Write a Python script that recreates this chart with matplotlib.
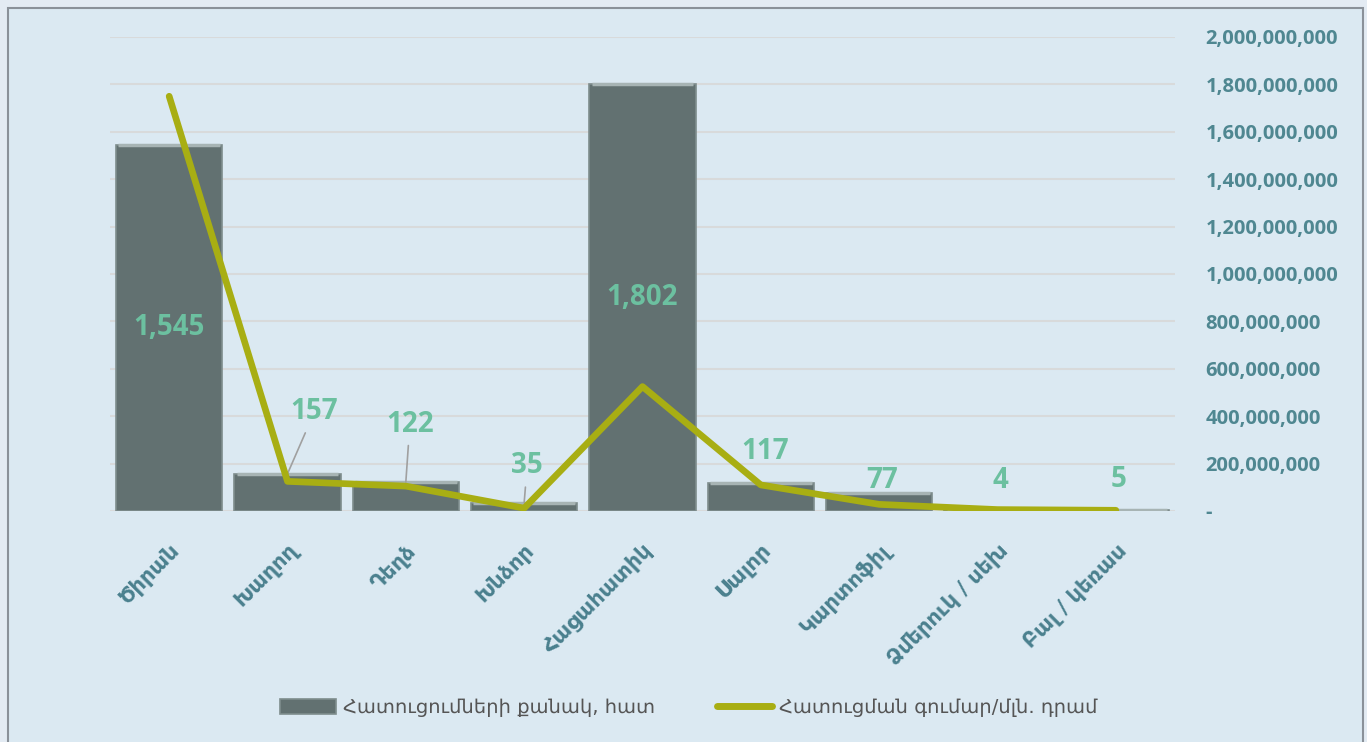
import matplotlib.pyplot as plt
from matplotlib.patches import Rectangle
from matplotlib.ticker import FuncFormatter

crops = ["Ծիրան", "Խաղող", "Դեղձ", "Խնձոր", "Հացահատիկ",
         "Սալոր", "Կարտոֆիլ", "Ձմերուկ / սեխ", "Բալ / կեռաս"]
claims = [1545, 157, 122, 35, 1802, 117, 77, 4, 5]
amounts = [1.75e9, 1.25e8, 1.05e8, 1.2e7, 5.25e8, 1.1e8, 2.8e7, 6e6, 3e6]

# label offsets in pixels (dx, dy) from bar top, and whether a leader line is drawn
label_off = [None, (27, 62), (4, 58), (3, 37), None, (4, 32), (3, 12), (3, 30), (3, 30)]
leader = [False, True, True, True, False, False, False, False, False]

bar_col = "#627171"
line_col = "#A8AE13"
num_col = "#6CC0A0"
axis_col = "#4F8791"
xlab_col = "#4A808E"
grid_col = "#D8DADB"
num_font = ["Open Sans", "DejaVu Sans"]

fig = plt.figure(figsize=(13.67, 7.42), dpi=100)
fig.patch.set_facecolor("#E3EBF3")
fig.patches.append(Rectangle((8 / 1367, -0.01), 1355 / 1367, 1 - 8 / 742 + 0.01,
                             transform=fig.transFigure, facecolor="#DBE9F2",
                             edgecolor="#8A9199", lw=1.5, zorder=-5))

ax = fig.add_axes([110 / 1367, 1 - 511 / 742, 1065 / 1367, 474 / 742])
ax.set_facecolor("none")
ax2 = ax.twinx()

x = list(range(len(crops)))
bars = ax.bar(x, claims, width=0.9, color=bar_col, edgecolor="#7E8D8D", lw=1.2, zorder=3)
ax.hlines(claims, [i - 0.43 for i in x], [i + 0.43 for i in x], color="#A7B4B4", lw=2.5, zorder=4)
ax.set_ylim(0, 2000)
ax.set_xlim(-0.5, len(crops) - 0.5)
ax.set_yticks([])

for i, v in enumerate(claims):
    txt = f"{v:,}"
    if label_off[i] is None:
        ax.text(i, v / 2, txt, ha="center", va="center", color=num_col,
                fontsize=20, fontweight="bold", family=num_font, zorder=6)
    else:
        dx, dy = label_off[i]
        ax.annotate(txt, (i, v), xytext=(dx, dy), textcoords="offset pixels",
                    ha="center", va="center", color=num_col, fontsize=20,
                    fontweight="bold", family=num_font, zorder=6,
                    arrowprops=dict(arrowstyle="-", color="#A0A0A0", lw=1.2,
                                    shrinkA=3, shrinkB=0) if leader[i] else None)

ax.set_xticks(x)
ax.set_xticklabels(crops, rotation=45, ha="right", rotation_mode="anchor",
                   color=xlab_col, fontsize=15, fontweight="bold")
ax.tick_params(axis="x", length=0, pad=21)

# gridlines on the bar axes so they stay beneath bars
for t in range(0, 2001, 200):
    ax.axhline(t, color=grid_col, lw=1.5, zorder=1)

ax2.plot(x, amounts, color=line_col, lw=4.8, solid_capstyle="round", zorder=5)
ax2.set_ylim(0, 2e9)
ax2.set_yticks([i * 2e8 for i in range(11)])
ax2.yaxis.set_major_formatter(FuncFormatter(lambda v, p: "-" if v == 0 else f"{v:,.0f}"))
ax2.tick_params(axis="y", length=0, pad=22, labelsize=14.5, labelcolor=axis_col)
for lab in ax2.get_yticklabels():
    lab.set_family(num_font)
    lab.set_fontweight("bold")
ax2.patch.set_visible(False)
for a in (ax, ax2):
    for s in a.spines.values():
        s.set_visible(False)
ax.set_zorder(1)
ax2.set_zorder(2)

line_handle = plt.Line2D([], [], color=line_col, lw=5, solid_capstyle="round")
fig.legend([bars, line_handle],
           ["Հատուցումների քանակ, հատ", "Հատուցման գումար/մլն. դրամ"],
           loc="center", bbox_to_anchor=(0.504, 0.046), ncol=2, frameon=False,
           fontsize=14, labelcolor="#555555", handlelength=2.85, handleheight=0.85,
           handletextpad=0.35, columnspacing=3.2)

fig.savefig("out.png", dpi=100, facecolor=fig.get_facecolor())
